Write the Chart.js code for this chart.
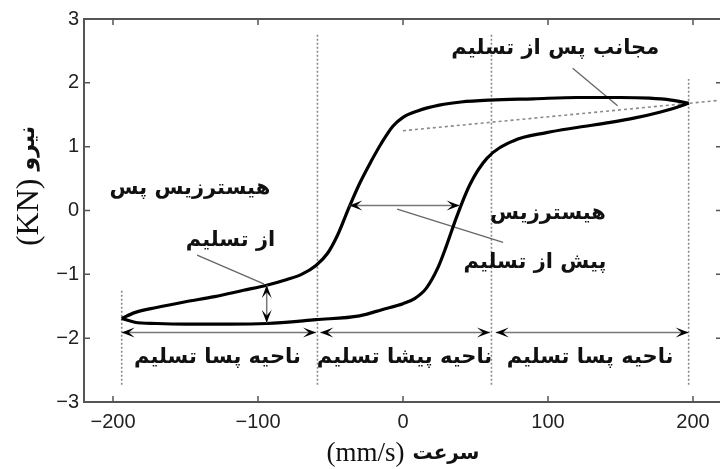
<!DOCTYPE html>
<html dir="ltr">
<head>
<meta charset="utf-8">
<script src="https://cdn.jsdelivr.net/npm/chart.js@4/dist/chart.umd.min.js"></script>
<style>
  html, body { margin: 0; padding: 0; background: #fff; overflow: hidden; }
  #wrap { width: 730px; height: 469px; }
</style>
</head>
<body>
<div id="wrap"><canvas id="chart" width="730" height="469"></canvas></div>
<script>
// --- DATOS ---
const xTicks = [-200, -100, 0, 100, 200];
const yTicks = [-3, -2, -1, 0, 1, 2, 3];

// rama superior (de la punta derecha a la izquierda)
const upperV = [197, 185, 170, 150, 120, 90, 60, 40, 25, 10, 0, -7, -15, -22, -30, -37, -45, -52, -60, -70, -80, -94, -110, -130, -150, -170, -185, -194];
const upperF = [1.68, 1.73, 1.76, 1.77, 1.77, 1.75, 1.73, 1.70, 1.65, 1.56, 1.46, 1.32, 1.05, 0.77, 0.42, 0.06, -0.38, -0.67, -0.86, -1.00, -1.08, -1.17, -1.25, -1.35, -1.43, -1.52, -1.60, -1.69];
// rama inferior (de la punta izquierda a la derecha)
const lowerV = [-194, -185, -170, -150, -120, -94, -60, -30, -14, 0, 8, 16, 24, 30, 37, 46, 58, 76, 99, 120, 143, 160, 177, 188, 197];
const lowerF = [-1.69, -1.75, -1.77, -1.78, -1.78, -1.77, -1.71, -1.65, -1.55, -1.46, -1.38, -1.22, -0.90, -0.55, -0.10, 0.40, 0.82, 1.09, 1.22, 1.30, 1.38, 1.45, 1.54, 1.61, 1.68];

// asíntota post-fluencia
const asymV = [0, 218];
const asymF = [1.25, 1.725];

// límites de zona (líneas punteadas verticales)
const boundV = [-194, -59, 61, 197];
const boundTop = [-1.25, 2.77, 2.77, 2.06];
const boundBottom = -2.73;

// flechas de zona
const zoneFrom = [-194, -57, 64];
const zoneTo = [-60, 60, 197];
const zoneF = -1.91;
const zoneLabels = ["ناحیه پسا تسلیم", "ناحیه پیشا تسلیم", "ناحیه پسا تسلیم"];
const zoneLabelV = [-128, 1, 129];

// --- HELPERS ---
const toPoints = (xs, ys) => xs.map((x, i) => ({ x, y: ys[i] }));
const fmt = (v) => (v < 0 ? "\u2212" + Math.abs(v) : String(v));

const lineDs = (data, color, width, dash) => ({
  data,
  borderColor: color,
  borderWidth: width,
  borderDash: dash || [],
  pointRadius: 0,
  tension: 0,
  fill: false,
});

const boundaryDatasets = boundV.map((v, i) =>
  lineDs([{ x: v, y: boundBottom }, { x: v, y: boundTop[i] }], "#8a8a8a", 1.6, [2, 2])
);

const drawHead = (ctx, x, y, ang) => {
  const L = 13, W = 10;
  ctx.save();
  ctx.translate(x, y);
  ctx.rotate(ang);
  ctx.beginPath();
  ctx.moveTo(0, 0);
  ctx.lineTo(-L, -W / 2);
  ctx.lineTo(-L * 0.55, 0);
  ctx.lineTo(-L, W / 2);
  ctx.closePath();
  ctx.fillStyle = "#000";
  ctx.fill();
  ctx.restore();
};

const drawArrow = (ctx, sx, sy, x1, y1, x2, y2) => {
  const p1 = [sx.getPixelForValue(x1), sy.getPixelForValue(y1)];
  const p2 = [sx.getPixelForValue(x2), sy.getPixelForValue(y2)];
  ctx.save();
  ctx.strokeStyle = "#777";
  ctx.lineWidth = 1.5;
  ctx.beginPath();
  ctx.moveTo(p1[0], p1[1]);
  ctx.lineTo(p2[0], p2[1]);
  ctx.stroke();
  ctx.restore();
  const ang = Math.atan2(p2[1] - p1[1], p2[0] - p1[0]);
  drawHead(ctx, p2[0], p2[1], ang);
  drawHead(ctx, p1[0], p1[1], ang + Math.PI);
};

const PERSIAN_FONT = 'bold 21px "DejaVu Sans"';
const drawText = (ctx, sx, sy, text, v, f) => {
  ctx.save();
  ctx.font = PERSIAN_FONT;
  ctx.fillStyle = "#111";
  ctx.textAlign = "center";
  ctx.textBaseline = "middle";
  ctx.direction = "rtl";
  ctx.fillText(text, sx.getPixelForValue(v), sy.getPixelForValue(f));
  ctx.restore();
};

// título compuesto: parte latina (serif) + parte persa
const drawTitle = (ctx, cx, cy, latin, persian, rot, latinSize, persianSize) => {
  const fL = `${latinSize}px "Liberation Serif"`;
  const fP = `bold ${persianSize}px "DejaVu Sans"`;
  ctx.save();
  ctx.translate(cx, cy);
  ctx.rotate(rot);
  ctx.fillStyle = "#111";
  ctx.textBaseline = "alphabetic";
  ctx.font = fL;
  const wL = ctx.measureText(latin).width;
  ctx.font = fP;
  const wP = ctx.measureText(persian).width;
  const gap = 8;
  const start = -(wL + gap + wP) / 2;
  ctx.font = fL;
  ctx.textAlign = "left";
  ctx.fillText(latin, start, latinSize * 0.33);
  ctx.font = fP;
  ctx.direction = "rtl";
  ctx.textAlign = "right";
  ctx.fillText(persian, start + wL + gap + wP, 7);
  ctx.restore();
};

// --- PLUGIN: marco, ticks interiores, anotaciones ---
const framePlugin = {
  id: "frame",
  afterDatasetsDraw(chart) {
    const { ctx, chartArea: a, scales: { x: sx, y: sy } } = chart;

    // anotaciones
    zoneFrom.forEach((v, i) => drawArrow(ctx, sx, sy, v, zoneF, zoneTo[i], zoneF));
    zoneLabels.forEach((t, i) => drawText(ctx, sx, sy, t, zoneLabelV[i], -2.31));
    drawArrow(ctx, sx, sy, -37, 0.08, 39, 0.08);
    drawArrow(ctx, sx, sy, -94, -1.17, -94, -1.76);

    drawText(ctx, sx, sy, "مجانب پس از تسلیم", 105, 2.53);
    drawText(ctx, sx, sy, "هیسترزیس پس", -147, 0.34);
    drawText(ctx, sx, sy, "از تسلیم", -119, -0.47);
    drawText(ctx, sx, sy, "هیسترزیس", 100, -0.05);
    drawText(ctx, sx, sy, "پیش از تسلیم", 91, -0.81);

    // marco
    ctx.save();
    ctx.strokeStyle = "#555";
    ctx.lineWidth = 2;
    ctx.strokeRect(a.left, a.top, a.right - a.left, a.bottom - a.top);
    ctx.lineWidth = 1.5;
    ctx.beginPath();
    xTicks.forEach((t) => {
      const px = sx.getPixelForValue(t);
      ctx.moveTo(px, a.bottom); ctx.lineTo(px, a.bottom - 6);
      ctx.moveTo(px, a.top); ctx.lineTo(px, a.top + 6);
    });
    yTicks.forEach((t) => {
      const py = sy.getPixelForValue(t);
      ctx.moveTo(a.left, py); ctx.lineTo(a.left + 6, py);
      ctx.moveTo(a.right, py); ctx.lineTo(a.right - 6, py);
    });
    ctx.stroke();
    ctx.restore();

    // títulos de ejes
    drawTitle(ctx, (a.left + a.right) / 2, 452, "(mm/s)", "سرعت", 0, 27, 20);
    drawTitle(ctx, 27, 186, "(KN)", "نیرو", -Math.PI / 2, 32, 22);
  },
};

// --- GRÁFICO ---
new Chart(document.getElementById("chart").getContext("2d"), {
  type: "line",
  data: {
    datasets: [
      { ...lineDs(toPoints(upperV, upperF), "#000", 3.2), cubicInterpolationMode: "monotone" },
      { ...lineDs(toPoints(lowerV, lowerF), "#000", 3.2), cubicInterpolationMode: "monotone" },
      lineDs(toPoints(asymV, asymF), "#8a8a8a", 1.6, [3, 3]),
      lineDs([{ x: -142, y: -0.70 }, { x: -96, y: -1.15 }], "#666", 1.3),
      lineDs([{ x: -4, y: 0.02 }, { x: 69, y: -0.5 }], "#666", 1.3),
      lineDs([{ x: 117, y: 2.23 }, { x: 148, y: 1.64 }], "#666", 1.3),
      ...boundaryDatasets,
    ],
  },
  options: {
    responsive: false,
    animation: false,
    events: [],
    layout: { padding: { top: 19, right: 8, left: 0, bottom: 0 } },
    plugins: { legend: { display: false }, tooltip: { enabled: false } },
    scales: {
      x: {
        type: "linear",
        min: -220,
        max: 220,
        grid: { display: false, drawTicks: false },
        border: { display: false },
        afterBuildTicks: (s) => { s.ticks = xTicks.map((v) => ({ value: v })); },
        afterFit: (s) => { s.height = 67; },
        ticks: {
          padding: 8,
          color: "#222",
          font: { family: "Liberation Sans", size: 20 },
          callback: (v) => fmt(v),
        },
      },
      y: {
        type: "linear",
        min: -3,
        max: 3,
        grid: { display: false, drawTicks: false },
        border: { display: false },
        afterBuildTicks: (s) => { s.ticks = yTicks.map((v) => ({ value: v })); },
        afterFit: (s) => { s.width = 84; },
        ticks: {
          padding: 5,
          color: "#222",
          font: { family: "Liberation Sans", size: 20 },
          callback: (v) => fmt(v),
        },
      },
    },
  },
  plugins: [framePlugin],
});
</script>
</body>
</html>
